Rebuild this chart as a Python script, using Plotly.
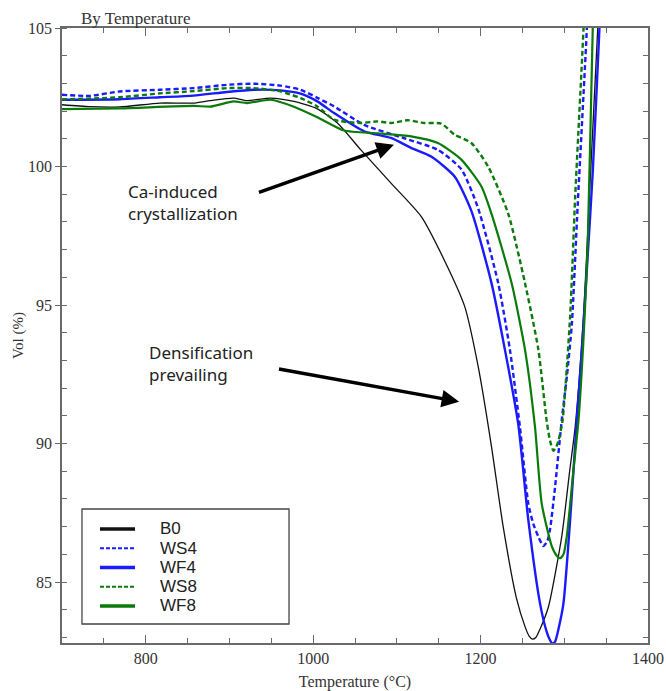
import plotly.graph_objects as go

# Dilatometry curves: relative volume vs temperature
temp_b0 = [700, 733, 769, 817, 857, 877, 905, 921, 949, 977, 1005, 1029, 1057, 1093, 1129,
           1157, 1181, 1197, 1213, 1227, 1243, 1253, 1258, 1262, 1266, 1271, 1281, 1297,
           1306, 1313, 1323, 1330, 1340, 1344]
vol_b0 = [102.23, 102.16, 102.15, 102.29, 102.29, 102.38, 102.47, 102.38, 102.47, 102.35,
          102.08, 101.57, 100.6, 99.4, 98.2, 96.6, 94.95, 92.8, 89.9, 87.0, 84.4, 83.4,
          83.05, 82.94, 83.0, 83.3, 84.1, 86.65, 88.9, 90.6, 94.6, 98.9, 105.0, 107.5]

temp_ws4 = [700, 733, 769, 817, 857, 897, 929, 961, 985, 1005, 1025, 1061, 1109, 1149, 1177,
            1197, 1221, 1235, 1247, 1257, 1263, 1269, 1275, 1280, 1283, 1289, 1297, 1303,
            1309, 1316, 1327, 1330]
vol_ws4 = [102.59, 102.55, 102.71, 102.77, 102.83, 102.95, 102.99, 102.92, 102.77, 102.48,
           102.17, 101.5, 101.02, 100.6, 99.9, 98.5, 95.8, 93.4, 90.6, 87.84, 87.1, 86.64,
           86.3, 86.5, 86.9, 88.44, 90.85, 92.4, 94.3, 98.6, 105.0, 107.5]

temp_wf4 = [700, 769, 817, 857, 897, 929, 961, 985, 1005, 1025, 1061, 1093, 1117, 1141, 1169,
            1189, 1213, 1229, 1245, 1257, 1271, 1279, 1283, 1286, 1289, 1293, 1299, 1307,
            1315, 1321, 1327, 1334, 1342, 1346]
vol_wf4 = [102.41, 102.43, 102.5, 102.56, 102.69, 102.77, 102.75, 102.63, 102.35, 101.93,
           101.27, 101.03, 100.67, 100.36, 99.64, 98.4, 95.8, 93.4, 90.7, 87.25, 84.23, 83.2,
           82.9, 82.78, 82.85, 83.3, 84.23, 87.25, 90.85, 93.4, 96.3, 99.8, 105.0, 107.5]

temp_ws8 = [700, 769, 817, 857, 897, 929, 961, 985, 1005, 1025, 1057, 1077, 1093, 1113, 1133,
            1153, 1169, 1189, 1209, 1233, 1253, 1269, 1279, 1283, 1287, 1290, 1293, 1298,
            1307, 1313, 1323, 1326]
vol_ws8 = [102.42, 102.5, 102.64, 102.72, 102.83, 102.83, 102.71, 102.47, 102.17, 101.69,
           101.57, 101.63, 101.57, 101.67, 101.57, 101.55, 101.15, 100.85, 100.0, 98.3, 95.8,
           93.4, 90.8, 90.1, 89.74, 89.85, 90.1, 90.85, 94.6, 98.9, 105.0, 107.5]

temp_wf8 = [700, 769, 857, 877, 905, 921, 949, 977, 1005, 1037, 1077, 1117, 1149, 1177, 1201,
            1213, 1237, 1253, 1265, 1273, 1285, 1291, 1295, 1299, 1303, 1311, 1317, 1323,
            1328, 1334, 1337]
vol_wf8 = [102.07, 102.1, 102.19, 102.16, 102.35, 102.29, 102.41, 102.16, 101.78, 101.3, 101.2,
           101.09, 100.85, 100.25, 99.28, 98.3, 95.8, 93.4, 90.6, 87.84, 86.3, 85.95, 85.86,
           86.0, 86.65, 89.05, 90.85, 93.8, 97.2, 105.0, 107.5]

series_names = ["B0", "WS4", "WF4", "WS8", "WF8"]
series_temps = [temp_b0, temp_ws4, temp_wf4, temp_ws8, temp_wf8]
series_vols = [vol_b0, vol_ws4, vol_wf4, vol_ws8, vol_wf8]
series_colors = ["#111111", "#1a1aff", "#1a1aff", "#0a7a0a", "#0a7a0a"]
series_dash = ["solid", "5px,3px", "solid", "5px,3px", "solid"]
series_width = [1.3, 2.4, 2.4, 2.4, 2.2]
legend_width = [3.5, 2.0, 3.5, 2.0, 3.5]

x_range = [700, 1400]
y_range = [82.8, 105]
x_ticks = [800, 1000, 1200, 1400]
y_ticks = [85, 90, 95, 100, 105]

SERIF = "Liberation Serif, Times New Roman, serif"
SANS = "Liberation Sans, Arial, sans-serif"
NOTE = "Noto Sans, Open Sans, sans-serif"
AXIS_GREY = "#6a6a6a"
TEXT_GREY = "#333333"

fig = go.Figure()

for name, t, v, c, d, w in zip(series_names, series_temps, series_vols,
                               series_colors, series_dash, series_width):
    fig.add_trace(go.Scatter(
        x=t, y=v, mode="lines", name=name, showlegend=False,
        line=dict(color=c, dash=d, width=w, shape="spline", smoothing=0.6),
    ))

# invisible helper trace so the right-hand tick axis is drawn
fig.add_trace(go.Scatter(x=[None], y=[None], yaxis="y2", showlegend=False,
                         hoverinfo="skip", mode="lines"))

fig.update_layout(
    width=666, height=691,
    margin=dict(l=62, r=18, t=28, b=48, autoexpand=False),
    paper_bgcolor="white", plot_bgcolor="white",
    showlegend=False,
    xaxis=dict(
        range=x_range, tickvals=x_ticks, ticks="inside", ticklen=8, tickwidth=1.2,
        tickcolor=AXIS_GREY, showline=True, linecolor=AXIS_GREY, linewidth=1.5,
        mirror="ticks", showgrid=False, zeroline=False, automargin=False,
        minor=dict(dtick=50, ticks="inside", ticklen=5, tickwidth=1.2,
                   tickcolor=AXIS_GREY, showgrid=False),
        tickfont=dict(family=SERIF, size=16, color=TEXT_GREY),
        title=dict(text="Temperature (°C)", standoff=12,
                   font=dict(family=SERIF, size=16, color=TEXT_GREY)),
    ),
    yaxis=dict(
        range=y_range, tickvals=y_ticks, ticks="outside", ticklen=5, tickwidth=1.2,
        tickcolor=AXIS_GREY, showline=True, linecolor=AXIS_GREY, linewidth=1.5,
        mirror=True, showgrid=False, zeroline=False, automargin=False,
        minor=dict(dtick=1, ticks="inside", ticklen=5, tickwidth=1.2,
                   tickcolor=AXIS_GREY, showgrid=False),
        tickfont=dict(family=SERIF, size=16, color=TEXT_GREY),
        title=dict(text="Vol (%)", standoff=1,
                   font=dict(family=SERIF, size=15, color=TEXT_GREY)),
    ),
    yaxis2=dict(
        range=y_range, overlaying="y", side="right", dtick=1, tick0=0,
        ticks="inside", ticklen=5, tickwidth=1.2, tickcolor=AXIS_GREY,
        showticklabels=False, showgrid=False, zeroline=False, showline=False,
        automargin=False,
    ),
)

# chart heading
fig.add_annotation(
    text="By Temperature", xref="paper", yref="paper", x=0.029, y=1.0,
    xanchor="left", yanchor="bottom", showarrow=False, yshift=-2,
    font=dict(family=SERIF, size=17, color=TEXT_GREY),
)

# process labels with arrows
fig.add_annotation(
    text="Ca-induced<br>crystallization", x=777, y=98.69, xref="x", yref="y",
    xanchor="left", yanchor="middle", align="left", showarrow=False,
    font=dict(family=NOTE, size=17, color="#222222"),
)
fig.add_annotation(
    text="Densification<br>prevailing", x=802, y=92.88, xref="x", yref="y",
    xanchor="left", yanchor="middle", align="left", showarrow=False,
    font=dict(family=NOTE, size=17, color="#222222"),
)
fig.add_annotation(
    text="", x=1096.5, y=100.79, ax=933.5, ay=99.05, xref="x", yref="y",
    axref="x", ayref="y", showarrow=True, arrowhead=2, arrowsize=1.0,
    arrowwidth=3.5, arrowcolor="#000000", standoff=0,
)
fig.add_annotation(
    text="", x=1174.4, y=91.51, ax=957.4, ay=92.70, xref="x", yref="y",
    axref="x", ayref="y", showarrow=True, arrowhead=2, arrowsize=1.0,
    arrowwidth=3.5, arrowcolor="#000000", standoff=0,
)

# legend box drawn in paper coordinates
fig.add_shape(type="rect", xref="paper", yref="paper", x0=0.0341, x1=0.3874,
              y0=0.0309, y1=0.2179, line=dict(color="#444444", width=1.3),
              fillcolor="white", layer="above")
row_top = 0.1854
row_step = 0.0313
for i, (name, c, d, w) in enumerate(zip(series_names, series_colors, series_dash, legend_width)):
    yy = row_top - i * row_step
    fig.add_shape(type="line", xref="paper", yref="paper", x0=0.0648, x1=0.1246,
                  y0=yy, y1=yy, line=dict(color=c, dash=("4px,2px" if d != "solid" else "solid"),
                                          width=w), layer="above")
    fig.add_annotation(text=name, xref="paper", yref="paper", x=0.1638, y=yy,
                       xanchor="left", yanchor="middle", showarrow=False,
                       font=dict(family=SANS, size=17, color="#222222"))

fig.write_html("out.html")
